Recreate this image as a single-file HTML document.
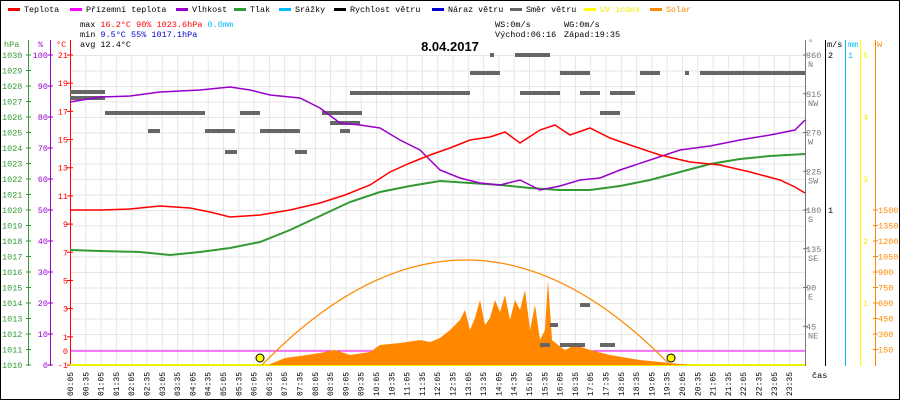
<!DOCTYPE html><html><head><meta charset="utf-8"><style>
body{margin:0;background:#fff}
svg{display:block;font-family:"Liberation Mono","DejaVu Sans Mono",monospace;font-size:8.5px}
</style></head><body>
<svg width="900" height="400" viewBox="0 0 900 400" xmlns="http://www.w3.org/2000/svg">
<rect x="0.5" y="0.5" width="899" height="399" fill="#fff" stroke="#000"/>
<g font-size="8.4">
<rect x="8" y="8" width="12" height="3" fill="#f00"/><text x="24" y="12">Teplota</text>
<rect x="70" y="8" width="12" height="3" fill="#f0f"/><text x="86" y="12">Přízemní teplota</text>
<rect x="176" y="8" width="12" height="3" fill="#90c"/><text x="192" y="12">Vlhkost</text>
<rect x="234" y="8" width="12" height="3" fill="#393"/><text x="250" y="12">Tlak</text>
<rect x="279" y="8" width="12" height="3" fill="#0bf"/><text x="295" y="12">Srážky</text>
<rect x="334" y="8" width="12" height="3" fill="#000"/><text x="350" y="12">Rychlost větru</text>
<rect x="432" y="8" width="12" height="3" fill="#00c"/><text x="448" y="12">Náraz větru</text>
<rect x="510" y="8" width="12" height="3" fill="#666"/><text x="526" y="12">Směr větru</text>
<rect x="584" y="8" width="12" height="3" fill="#ff0"/><text x="600" y="12" fill="#ee0">UV index</text>
<rect x="650" y="8" width="12" height="3" fill="#f80"/><text x="666" y="12" fill="#f80">Solar</text>
</g>
<text x="80" y="27">max <tspan fill="#f00">16.2°C  90%  1023.6hPa</tspan>   <tspan fill="#0bf">0.0mm</tspan></text>
<text x="80" y="37">min  <tspan fill="#00c">9.5°C  55%  1017.1hPa</tspan></text>
<text x="80" y="47">avg 12.4°C</text>
<text x="495" y="27">WS:0m/s</text><text x="564" y="27">WG:0m/s</text>
<text x="495" y="37">Východ:06:16</text><text x="564" y="37">Západ:19:35</text>
<text x="450" y="51" text-anchor="middle" font-size="13" font-weight="bold" font-family="Liberation Sans,sans-serif">8.04.2017</text>
<g stroke="#e6e6e6" stroke-width="1" id="grid"></g>
<g font-size="8.5">
<text x="4" y="47" fill="#393">hPa</text><text x="38" y="47" fill="#90c">%</text><text x="56" y="47" fill="#f00">°C</text>
<line x1="28.5" y1="40" x2="28.5" y2="366" stroke="#393"/>
<line x1="50.5" y1="40" x2="50.5" y2="366" stroke="#90c"/>
<line x1="70.5" y1="40" x2="70.5" y2="366" stroke="#f00"/>
<line x1="805.5" y1="40" x2="805.5" y2="366" stroke="#777"/>
<line x1="825.5" y1="40" x2="825.5" y2="366" stroke="#000"/>
<line x1="845.5" y1="40" x2="845.5" y2="366" stroke="#0bf"/>
<line x1="860.5" y1="40" x2="860.5" y2="366" stroke="#ff0"/>
<line x1="875.5" y1="40" x2="875.5" y2="366" stroke="#f80"/>
<text x="808" y="45" fill="#777">°</text><text x="827" y="47">m/s</text><text x="848" y="47" fill="#0bf">mm</text><text x="877" y="47" fill="#f80">W</text>
<g id="lab"></g>
</g>
<line x1="70" y1="351" x2="805" y2="351" stroke="#f0f"/>
<line x1="70" y1="365" x2="805" y2="365" stroke="#ee0" stroke-width="2"/>
<polygon fill="#f80" points="268,365 285,358 300,356 320,353 335,350 350,355 370,352 380,345 400,343 420,340 430,342 440,338 450,330 460,320 465,310 470,330 475,318 480,300 485,325 490,318 495,300 500,312 505,295 510,320 515,300 520,310 525,290 530,330 535,305 540,340 545,330 548,280 552,340 558,345 565,350 575,345 590,350 610,355 640,360 670,363 690,365"/>
<path d="M262,365 Q466,155 670,365" fill="none" stroke="#f80" stroke-width="1.2"/>
<g fill="#666" id="wd"></g>
<polyline fill="none" stroke="#393" stroke-width="2" points="70,250 100,251 140,252 170,255 200,252 230,248 260,242 290,230 320,216 350,202 380,192 410,186 440,181 470,183 500,185 530,188 560,190 590,190 620,186 650,180 680,172 710,164 740,159 770,156 805,154"/>
<polyline fill="none" stroke="#90c" stroke-width="1.5" points="70,102 100,97 130,96 160,92 200,90 230,87 250,90 270,95 300,98 320,108 340,123 360,125 380,128 400,140 420,150 430,160 440,170 460,178 480,183 500,185 520,180 540,190 560,186 580,180 600,178 620,170 650,160 680,150 710,146 740,140 770,135 795,130 805,120"/>
<polyline fill="none" stroke="#f00" stroke-width="1.5" points="70,210 100,210 130,209 160,206 190,208 210,212 230,217 260,215 290,210 320,203 345,195 370,185 390,172 410,163 430,155 450,148 470,140 490,137 505,132 520,143 540,130 555,125 570,135 590,128 610,138 630,145 660,155 690,162 720,165 750,172 780,180 795,187 805,193"/>
<circle cx="260" cy="358" r="4" fill="#ff0" stroke="#000"/>
<circle cx="671" cy="358" r="4" fill="#ff0" stroke="#000"/>
<text x="812" y="378">čas</text>
<g id="tl" font-size="8"></g>
</svg>
<script>
var ns="http://www.w3.org/2000/svg";
function el(p,t,a,txt){var e=document.createElementNS(ns,t);for(var k in a)e.setAttribute(k,a[k]);if(txt!==undefined)e.textContent=txt;document.getElementById(p).appendChild(e);}
for(var i=0;i<=20;i++){var y=55+i*15.5;el('grid','line',{x1:70,y1:y+.5,x2:805,y2:y+.5});
el('lab','text',{x:2,y:y+3,fill:'#393'},1030-i);el('lab','line',{x1:26,y1:y,x2:31,y2:y,stroke:'#393'});}
for(var i=0;i<48;i++){var x=70+i*15.3;el('grid','line',{x1:x+.5,y1:55,x2:x+.5,y2:365});
var h=Math.floor(i/2),m=i%2?'35':'05';var s=(h<10?'0':'')+h+':'+m;
el('tl','text',{x:0,y:0,transform:'translate('+(x+3)+',396) rotate(-90)'},s);}
for(var v=100;v>=0;v-=10){var y=365-v*3.1;el('lab','text',{x:48,y:y+3,fill:'#90c','text-anchor':'end'},v);el('lab','line',{x1:48,y1:y,x2:53,y2:y,stroke:'#90c'});}
for(var t=21;t>=-1;t-=2){var y=365-(t+1)*14.09;el('lab','text',{x:68,y:y+3,fill:'#f00','text-anchor':'end'},t);el('lab','line',{x1:67,y1:y,x2:73,y2:y,stroke:'#f00'});}
el('lab','text',{x:68,y:354,fill:'#f00','text-anchor':'end'},0);
var dn=['N','NW','W','SW','S','SE','E','NE'];
for(var i=0;i<8;i++){var d=360-45*i,y=365-d*310/360;el('lab','text',{x:806,y:y+3,fill:'#777'},d);el('lab','text',{x:808,y:y+12,fill:'#777'},dn[i]);el('lab','line',{x1:803,y1:y,x2:808,y2:y,stroke:'#777'});}
el('lab','text',{x:828,y:58},'2');el('lab','text',{x:828,y:213},'1');
el('lab','text',{x:848,y:58,fill:'#0bf'},'1');
for(var u=5;u>=1;u--){var y=365-u*62;el('lab','text',{x:863,y:y+3,fill:'#ee0'},u);}
for(var w=1500;w>=150;w-=150){var y=365-w*155/1500;el('lab','text',{x:878,y:y+3,fill:'#f80'},w);el('lab','line',{x1:873,y1:y,x2:878,y2:y,stroke:'#f80'});}
var wd=[[70,92,35],[70,98,35],[105,113,70],[148,131,12],[175,113,30],[205,131,30],[225,152,12],[240,113,20],[260,131,40],[295,152,12],[322,113,40],[350,93,60],[410,93,60],[470,73,30],[490,55,4],[515,55,35],[560,73,30],[610,93,25],[640,73,20],[700,73,30],[730,73,75],[520,93,40],[580,93,20],[600,113,20],[685,73,4],[330,123,30],[340,131,10],[540,345,10],[560,345,25],[600,345,15],[580,305,10],[550,325,8]];
wd.forEach(function(a){el('wd','rect',{x:a[0],y:a[1]-2,width:a[2],height:4});});
</script>
</body></html>
